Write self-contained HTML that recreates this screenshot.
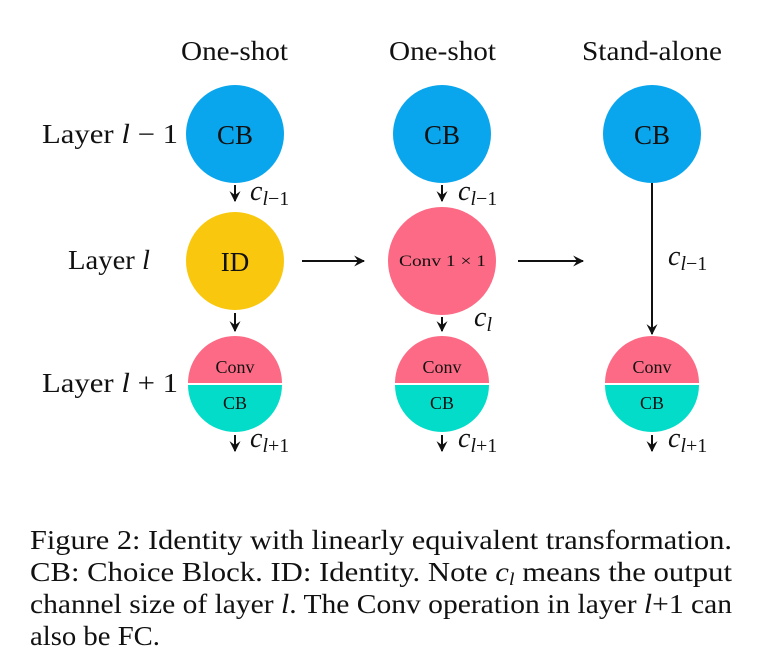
<!DOCTYPE html>
<html><head><meta charset="utf-8"><style>
html,body{margin:0;padding:0;background:#fff;width:762px;height:666px;overflow:hidden}
svg{display:block}
text{font-family:"Liberation Serif","Times New Roman",serif;fill:#111}
</style></head><body>
<svg width="762" height="666" viewBox="0 0 762 666" xmlns="http://www.w3.org/2000/svg">
<defs>
<marker id="ah" viewBox="0 0 10 10" refX="9" refY="5" markerWidth="11" markerHeight="11" markerUnits="userSpaceOnUse" orient="auto">
<path d="M0,0 L10,5 L0,10 L3.5,5 z" fill="#111"/>
</marker>
</defs>
<!-- headers -->
<text x="181" y="60" font-size="27" textLength="107" lengthAdjust="spacingAndGlyphs">One-shot</text>
<text x="389" y="60" font-size="27" textLength="107" lengthAdjust="spacingAndGlyphs">One-shot</text>
<text x="582" y="60" font-size="27" textLength="140" lengthAdjust="spacingAndGlyphs">Stand-alone</text>
<!-- row labels -->
<text x="42" y="143" font-size="27" textLength="136" lengthAdjust="spacingAndGlyphs">Layer <tspan font-style="italic">l</tspan> − 1</text>
<text x="68" y="269" font-size="27" textLength="82" lengthAdjust="spacingAndGlyphs">Layer <tspan font-style="italic">l</tspan></text>
<text x="42" y="392" font-size="27" textLength="136" lengthAdjust="spacingAndGlyphs">Layer <tspan font-style="italic">l</tspan> + 1</text>
<!-- top CB circles -->
<circle cx="235" cy="134" r="49" fill="#0aa6ed"/>
<circle cx="442" cy="134" r="49" fill="#0aa6ed"/>
<circle cx="652" cy="134" r="49" fill="#0aa6ed"/>
<text x="235" y="144" font-size="27" text-anchor="middle">CB</text>
<text x="442" y="144" font-size="27" text-anchor="middle">CB</text>
<text x="652" y="144" font-size="27" text-anchor="middle">CB</text>
<!-- middle -->
<circle cx="235" cy="261" r="49" fill="#f9c80e"/>
<text x="235" y="271" font-size="27" text-anchor="middle">ID</text>
<circle cx="442" cy="261" r="54" fill="#fd6a85"/>
<text x="399" y="266" font-size="16" textLength="87" lengthAdjust="spacingAndGlyphs">Conv 1 × 1</text>
<!-- bottom split circles -->
<g>
<path d="M188,383 A47,47 0 0 1 282,383 Z" fill="#fd6a85"/>
<path d="M188,385 A47,47 0 0 0 282,385 Z" fill="#03dcc9"/>
<text x="235" y="373" font-size="18" text-anchor="middle">Conv</text>
<text x="235" y="409" font-size="18" text-anchor="middle">CB</text>
</g>
<g>
<path d="M395,383 A47,47 0 0 1 489,383 Z" fill="#fd6a85"/>
<path d="M395,385 A47,47 0 0 0 489,385 Z" fill="#03dcc9"/>
<text x="442" y="373" font-size="18" text-anchor="middle">Conv</text>
<text x="442" y="409" font-size="18" text-anchor="middle">CB</text>
</g>
<g>
<path d="M605,383 A47,47 0 0 1 699,383 Z" fill="#fd6a85"/>
<path d="M605,385 A47,47 0 0 0 699,385 Z" fill="#03dcc9"/>
<text x="652" y="373" font-size="18" text-anchor="middle">Conv</text>
<text x="652" y="409" font-size="18" text-anchor="middle">CB</text>
</g>
<!-- arrows -->
<g stroke="#111" stroke-width="2" marker-end="url(#ah)">
<line x1="235" y1="185" x2="235" y2="201"/>
<line x1="442" y1="185" x2="442" y2="201"/>
<line x1="235" y1="313" x2="235" y2="331"/>
<line x1="442" y1="317" x2="442" y2="331"/>
<line x1="235" y1="435" x2="235" y2="451"/>
<line x1="442" y1="435" x2="442" y2="451"/>
<line x1="652" y1="435" x2="652" y2="451"/>
<line x1="652" y1="183" x2="652" y2="334"/>
<line x1="302" y1="261" x2="364" y2="261"/>
<line x1="518" y1="261" x2="583" y2="261"/>
</g>
<!-- connector labels -->
<g font-size="28" font-style="italic">
<text x="250" y="200">c<tspan font-size="20" dy="5">l</tspan><tspan font-style="normal" font-size="20">−1</tspan></text>
<text x="458" y="200">c<tspan font-size="20" dy="5">l</tspan><tspan font-style="normal" font-size="20">−1</tspan></text>
<text x="668" y="265">c<tspan font-size="20" dy="5">l</tspan><tspan font-style="normal" font-size="20">−1</tspan></text>
<text x="474" y="326">c<tspan font-size="20" dy="5">l</tspan></text>
<text x="250" y="447">c<tspan font-size="20" dy="5">l</tspan><tspan font-style="normal" font-size="20">+1</tspan></text>
<text x="458" y="447">c<tspan font-size="20" dy="5">l</tspan><tspan font-style="normal" font-size="20">+1</tspan></text>
<text x="668" y="447">c<tspan font-size="20" dy="5">l</tspan><tspan font-style="normal" font-size="20">+1</tspan></text>
</g>
<!-- caption -->
<g font-size="27">
<text x="30" y="549" textLength="702" lengthAdjust="spacingAndGlyphs">Figure 2: Identity with linearly equivalent transformation.</text>
<text x="30" y="581" textLength="702" lengthAdjust="spacingAndGlyphs">CB: Choice Block. ID: Identity. Note <tspan font-style="italic">c</tspan><tspan font-style="italic" font-size="18" dy="4">l</tspan><tspan dy="-4"> means the output</tspan></text>
<text x="30" y="613" textLength="702" lengthAdjust="spacingAndGlyphs">channel size of layer <tspan font-style="italic">l</tspan>. The Conv operation in layer <tspan font-style="italic">l</tspan>+1 can</text>
<text x="30" y="645" textLength="130" lengthAdjust="spacingAndGlyphs">also be FC.</text>
</g>
</svg>
</body></html>
